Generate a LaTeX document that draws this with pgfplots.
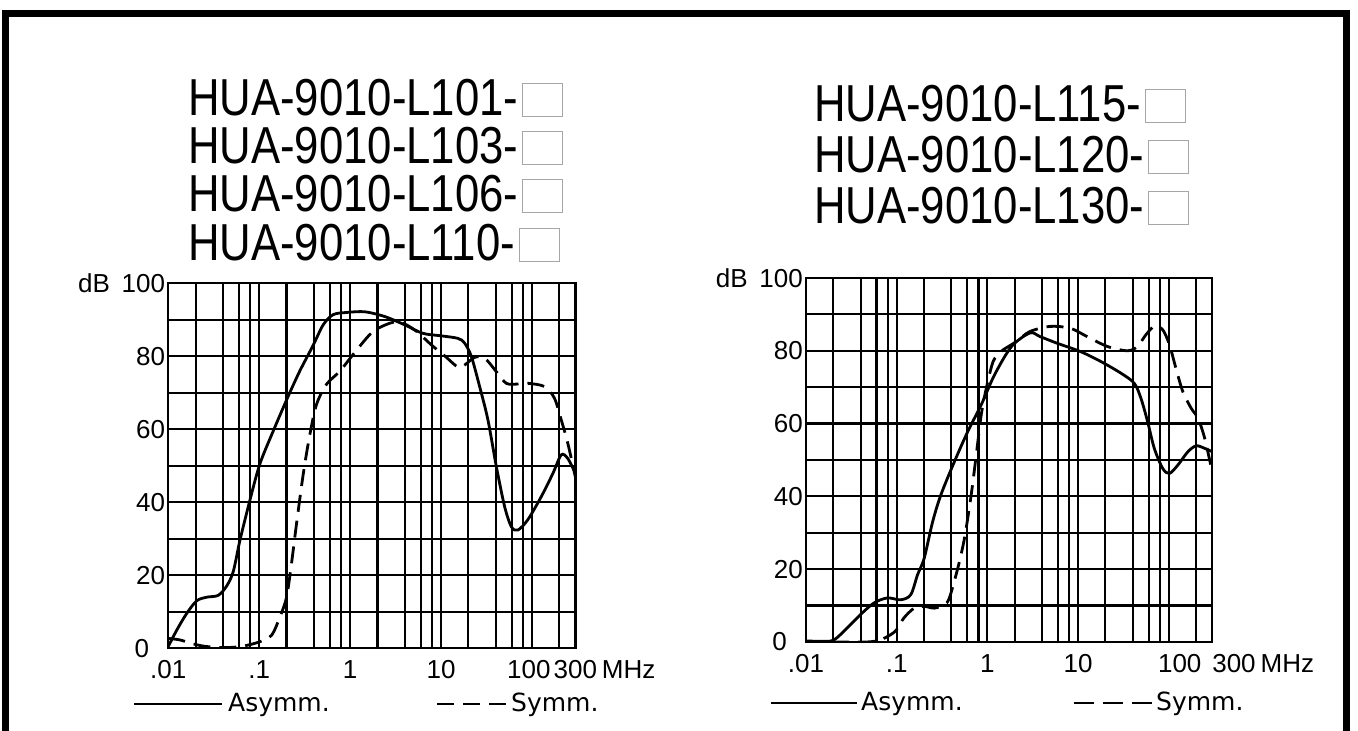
\documentclass[border=0pt]{standalone}
\usepackage{fontspec}
\setmainfont{DejaVu Sans}
\newfontfamily\titlefont{Liberation Sans}
\newfontfamily\numfont{Liberation Sans}
\usepackage{pgfplots}
\pgfplotsset{compat=1.18}

% shared look of the two attenuation charts
\pgfplotsset{
  shieldplot/.style={
    scale only axis,
    xmin=0.01, xmax=300, ymin=0, ymax=100,
    xtick={0.01,0.1,1,10,100,300},
    minor xtick={0.02,0.04,0.06,0.08,0.2,0.4,0.6,0.8,2,4,6,8,20,40,60,80,200},
    ytick={0,20,40,60,80,100},
    yticklabels={0\hspace*{16pt},20,40,60,80,dB\hspace{0.45em}100},
    minor ytick={10,30,50,70,90},
    grid=both,
    major grid style={black, line width=2.2pt},
    minor grid style={black, line width=2.2pt},
    axis line style={black, line width=2.4pt},
    major tick length=0pt, minor tick length=0pt,
    tick label style={font=\numfont\fontsize{26}{30}\selectfont, inner sep=0pt},
    xticklabel style={anchor=north, yshift=-12pt},
    yticklabel style={anchor=east, xshift=-3pt},
    every axis plot post/.append style={black, line width=2.8pt, smooth},
  },
  asym/.style={solid},
  symm/.style={dash pattern=on 17pt off 9pt},
}

\newcommand\tline[1]{\scalebox{0.84}[1]{#1}\kern4pt{\setlength\fboxsep{0pt}%
  \setlength\fboxrule{0.9pt}\fcolorbox{gray!70}{white}{\rule{0pt}{32pt}\hspace{39pt}}}}

\begin{document}
\begin{tikzpicture}[x=1pt,y=1pt]
\path[use as bounding box] (0,0) rectangle (1358,731);
\draw[line width=7pt, miter limit=4] (5,0) -- (5,717.5) -- (1346,717.5) -- (1346,0);

% part numbers
\begin{scope}[every node/.style={anchor=base west, inner sep=0pt,
    font=\titlefont\fontsize{52}{58}\selectfont}]
  \node at (188,615) {\tline{HUA-9010-L101-}};
  \node at (188,567) {\tline{HUA-9010-L103-}};
  \node at (188,519) {\tline{HUA-9010-L106-}};
  \node at (188,470) {\tline{HUA-9010-L110-}};
  \node at (814,609) {\tline{HUA-9010-L115-}};
  \node at (814,558) {\tline{HUA-9010-L120-}};
  \node at (814,507) {\tline{HUA-9010-L130-}};
\end{scope}

% left chart
\begin{axis}[xmode=log, shieldplot, anchor=south west, at={(168.3pt,82.7pt)},
  width=407pt, height=365pt,
  xticklabels={.01,.1,1,10,100\hspace*{6pt},300\rlap{\hspace{5pt}MHz}}]
\addplot[asym] coordinates {(0.01,0.5) (0.0124,5) (0.0159,9.5) (0.0205,13) (0.0264,14)
  (0.0354,14.5) (0.0437,17) (0.0518,21) (0.0613,29.5) (0.0789,40.5) (0.1017,50.5)
  (0.1425,59.5) (0.208,69) (0.28,76) (0.392,83) (0.505,88.6) (0.65,91.4) (0.912,92)
  (1.45,92.2) (2.4,90.9) (4.0,88.6) (6.3,86.3) (10.1,85.6) (15.4,84.9) (18.2,83.6)
  (21.6,79.9) (26.6,71.7) (32.8,62.6) (40.6,49.8) (50.1,38.8) (59.4,33.3) (70,32.4)
  (90,35.2) (127,41.6) (170,47.9) (210,53) (248,52) (300,48)};
\addplot[symm] coordinates {(0.01,2.7) (0.0134,2.3) (0.0188,1.2) (0.026,0.5)
  (0.0437,0.2) (0.0667,0.6) (0.1016,1.8) (0.137,3.6) (0.169,8.6) (0.2,14) (0.226,23)
  (0.257,34) (0.305,47.7) (0.361,58.6) (0.427,66.8) (0.549,72.3) (0.77,75.9)
  (1.08,80.5) (1.64,85.9) (2.2,88.1) (3.37,89.5) (5.14,87.2) (7.85,83.1) (11,80.1)
  (15.4,77) (18.2,77.6) (23.4,79.7) (30.2,79.5) (40.6,75.8) (52.2,72.6) (70,72.4)
  (90,72.6) (138,71.7) (177,68.5) (210,62.6) (248,56.2) (300,47)};
\end{axis}

% right chart
\begin{axis}[xmode=log, shieldplot, anchor=south west, at={(806pt,89pt)},
  width=406pt, height=364pt,
  xticklabels={.01,.1,1,10,\hspace*{22pt}100,\hspace*{44pt}300\rlap{\hspace{5pt}MHz}}]
\addplot[asym] coordinates {(0.01,0.3) (0.0143,0.2) (0.0201,0.5) (0.0283,3.8) (0.0398,7.5)
  (0.056,10.7) (0.0787,12.1) (0.111,11.6) (0.143,13) (0.17,18.5) (0.201,23)
  (0.249,33) (0.308,40.5) (0.434,49.6) (0.61,57.9) (0.857,65.2) (1.2,73.4)
  (1.85,81.2) (2.95,84.9) (3.81,83.9) (5.84,82.1) (10.6,79.8) (17.7,77.1)
  (29.5,73.9) (41.6,71.1) (49.3,67) (58.4,60.6) (69.3,53.2) (85.7,47.7)
  (101.7,46.3) (126,48.6) (163,52.3) (201,53.9) (249,53.2) (300,52.3)};
\addplot[symm] coordinates {(0.01,0) (0.02,0) (0.047,0) (0.066,0.6) (0.0857,2)
  (0.1,3.4) (0.12,6.6) (0.156,9.3) (0.201,9.8) (0.26,9.3) (0.336,10.3) (0.381,12.1)
  (0.472,20.3) (0.56,28.6) (0.664,40.5) (0.755,51.5) (0.857,62.5) (0.975,69.8)
  (1.16,77.1) (1.43,79.9) (1.85,81.7) (2.1,82.6) (2.95,85.3) (4.92,86.7) (8.2,86.2)
  (12.6,83.9) (21,81.2) (35,80) (45.2,81.2) (56,84.4) (69.3,86.7) (85.7,85.8)
  (101.7,81.7) (120,75.2) (143,68.8) (177,64.2) (210,61.5) (249,56) (300,47)};
\end{axis}

% legends under each chart
\begin{scope}[every node/.style={anchor=base west, inner sep=0pt,
    font=\fontsize{25}{30}\selectfont}]
  \draw[line width=2.8pt] (134,27) -- (222,27);
  \node at (228,19) {Asymm.};
  \draw[line width=2.8pt, dash pattern=on 17pt off 9pt] (437,27) -- (506,27);
  \node at (511,19) {Symm.};
  \draw[line width=2.8pt] (771,28) -- (857,28);
  \node at (861,20) {Asymm.};
  \draw[line width=2.8pt, dash pattern=on 20pt off 9pt] (1074,28) -- (1152,28);
  \node at (1156,20) {Symm.};
\end{scope}
\end{tikzpicture}
\end{document}
